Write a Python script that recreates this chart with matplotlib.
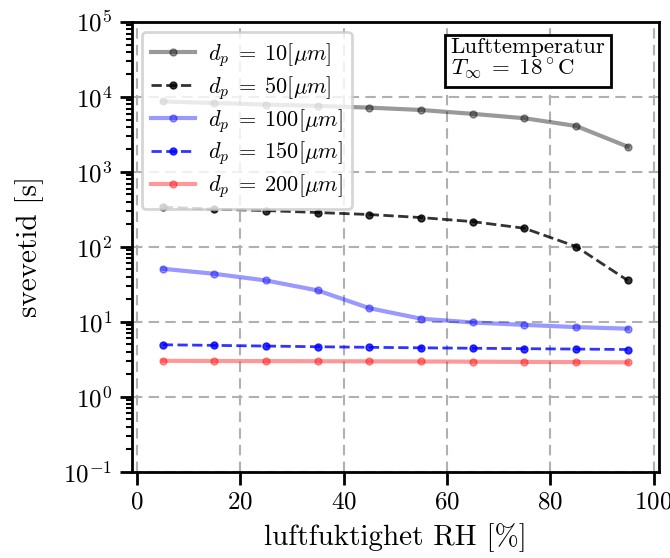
import numpy as np
import matplotlib
matplotlib.use("Agg")
import matplotlib.pyplot as plt

# relative humidity [%]
rh = [5, 15, 25, 35, 45, 55, 65, 75, 85, 95]

# hover time [s] for each droplet diameter
t_10 = [8700, 8300, 7900, 7600, 7200, 6700, 5950, 5200, 4100, 2170]
t_50 = [338, 318, 305, 287, 270, 246, 217, 177, 101, 35.6]
t_100 = [51, 43.7, 35.6, 26.2, 15.2, 11.0, 9.8, 9.1, 8.5, 8.1]
t_150 = [4.94, 4.85, 4.75, 4.65, 4.57, 4.50, 4.44, 4.38, 4.33, 4.27]
t_200 = [3.02, 3.00, 2.99, 2.98, 2.97, 2.96, 2.94, 2.92, 2.90, 2.88]

diameters = [10, 50, 100, 150, 200]

plt.rcParams['font.family'] = 'serif'
plt.rcParams['font.serif'] = ['cmr10']
plt.rcParams['mathtext.fontset'] = 'cm'
plt.rcParams['axes.formatter.use_mathtext'] = True
plt.rcParams['axes.unicode_minus'] = True

fig = plt.figure(figsize=(6.7, 5.58), dpi=100)
ax = fig.add_axes([0.1966, 0.1546, 0.7866, 0.806])

styles = [
    dict(color='black', ls='-', lw=3, alpha=0.4),
    dict(color='black', ls='--', lw=2, alpha=0.8),
    dict(color='blue', ls='-', lw=3, alpha=0.4),
    dict(color='blue', ls='--', lw=2, alpha=0.8),
    dict(color='red', ls='-', lw=3, alpha=0.4),
]

for d, t, st in zip(diameters, [t_10, t_50, t_100, t_150, t_200], styles):
    ax.plot(rh, t, marker='o', ms=5, label=r'$d_p\;=\;%d[\mu m]$' % d, **st)

ax.set_yscale('log')
ax.set_ylim(1e-1, 1e5)
ax.set_xlim(-1, 101)
ax.set_xticks([0, 20, 40, 60, 80, 100])

ax.grid(True, which='major', ls=(0, (5, 3)), lw=1.5, color='#b0b0b0')
for s in ax.spines.values():
    s.set_linewidth(2)
ax.tick_params(which='major', direction='out', length=9, width=2, labelsize=18, pad=5)
ax.tick_params(which='minor', direction='out', length=4.5, width=1.5)

ax.set_xlabel('luftfuktighet RH [%]', fontsize=21, labelpad=7)
ax.set_ylabel('svevetid [s]', fontsize=21, labelpad=14)

leg = ax.legend(loc='upper left', fontsize=16, framealpha=0.8, handlelength=2.0,
                handletextpad=0.6, labelspacing=0.22, borderaxespad=0.45)
leg.get_frame().set_linewidth(2)

ax.text(0.605, 0.965, 'Lufttemperatur\n' + r'$T_\infty\;=\;18^\circ$C',
        transform=ax.transAxes, fontsize=16.5, va='top', ha='left',
        linespacing=0.95,
        bbox=dict(boxstyle='square,pad=0.25', fc='white', ec='black', lw=2))

fig.savefig('out.png', dpi=100)
